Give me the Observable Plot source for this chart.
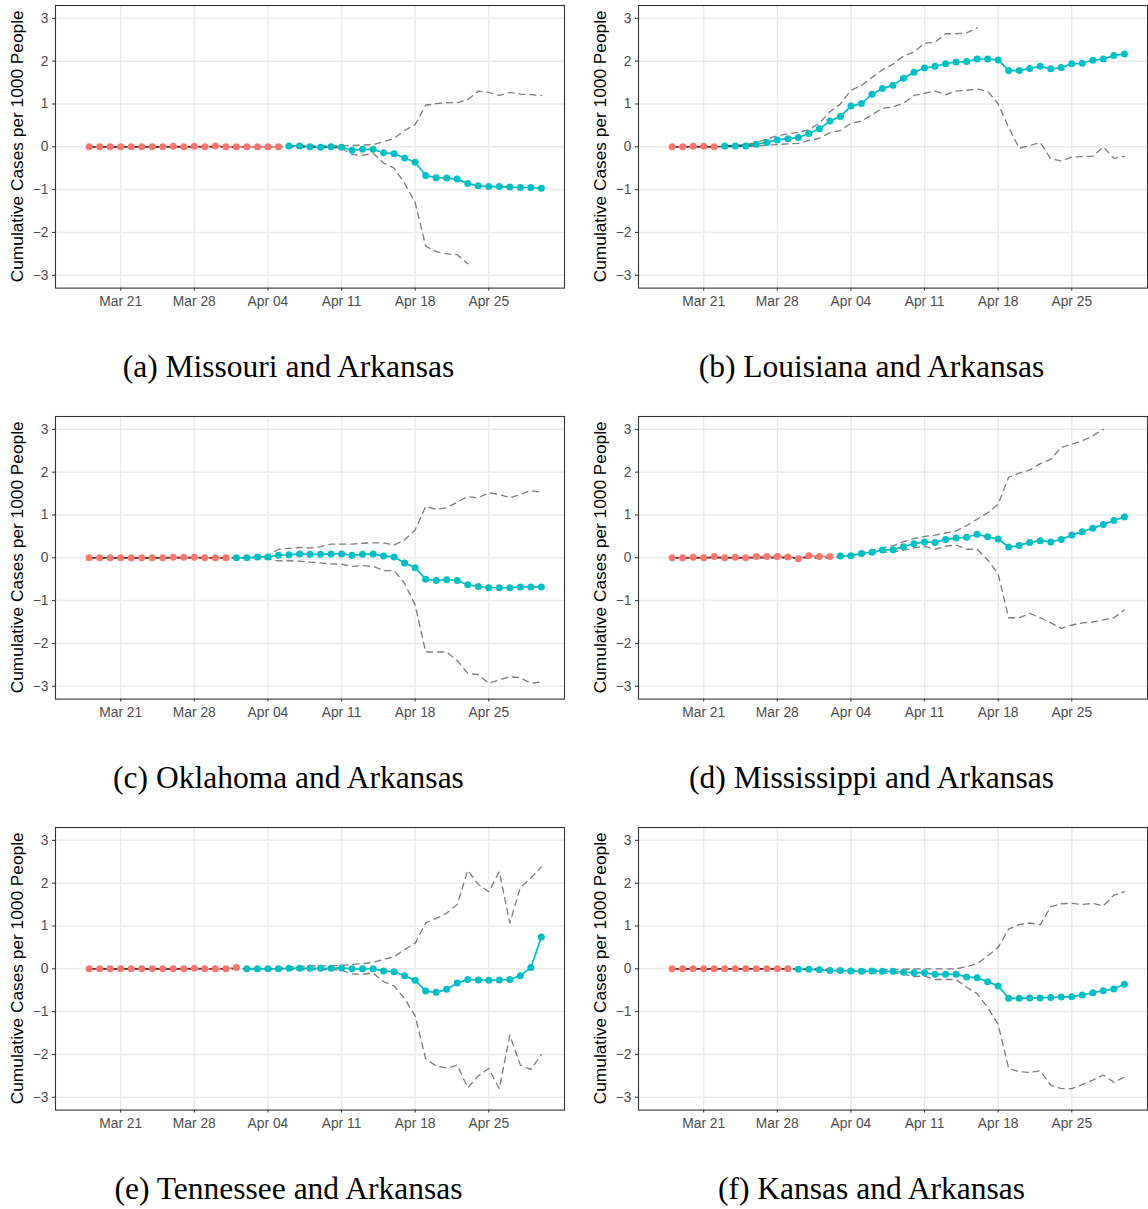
<!DOCTYPE html>
<html><head><meta charset="utf-8">
<script src="https://cdn.jsdelivr.net/npm/d3@7"></script>
<script src="https://cdn.jsdelivr.net/npm/@observablehq/plot@0.6"></script>
<style>
body{margin:0;background:#fff;}
#fig{position:relative;width:1148px;height:1209px;overflow:hidden;background:#fff;}
.panel{position:absolute;width:583px;height:411px;}
.panel svg{position:absolute;left:0;top:0;}
.cap{position:absolute;left:-3px;width:583px;top:350.5px;text-align:center;font-family:"Liberation Serif","Times New Roman",serif;font-size:31.5px;line-height:31.5px;color:#000;white-space:nowrap;}
</style></head><body><div id="fig"></div>
<script>
// ---- data ----
const firstDay = "2020-03-18", lastDay = "2020-04-30";
const xTickLabels = ["2020-03-21","2020-03-28","2020-04-04","2020-04-11","2020-04-18","2020-04-25"];
const yTickValues = [-3,-2,-1,0,1,2,3];
const captions = ["(a) Missouri and Arkansas","(b) Louisiana and Arkansas","(c) Oklahoma and Arkansas","(d) Mississippi and Arkansas","(e) Tennessee and Arkansas","(f) Kansas and Arkansas"];

// (a) Missouri
const moPre = [0,0,0,0,0,0,0,0,0.01,0,0.01,0,0.02,0,0,0,0,0,0];
const moPost = [0.02,0.02,0,-0.01,0,-0.01,-0.08,-0.06,-0.06,-0.14,-0.16,-0.26,-0.36,-0.67,-0.72,-0.73,-0.75,-0.86,-0.91,-0.93,-0.93,-0.94,-0.95,-0.95,-0.97];
const moUpper = [0,0,0,0,0,0,0,0,0,0,0,0,0,0,0,0,0,0,0,0.02,0.02,0.02,0.02,0.02,0.02,0.03,0.04,0.05,0.12,0.2,0.38,0.52,0.97,1.01,1.03,1.03,1.1,1.3,1.27,1.2,1.27,1.23,1.22,1.2];
const moLower = [0,0,0,0,0,0,0,0,0,0,0,0,0,0,0,0,0,0,0,0,0,-0.01,-0.02,-0.02,-0.03,-0.18,-0.2,-0.15,-0.38,-0.5,-0.85,-1.3,-2.32,-2.45,-2.5,-2.52,-2.73,null,null,null,null,null,null,null];

// (b) Louisiana
const laPre = [0,0,0.01,0.01,0];
const laPost = [0.02,0.02,0.02,0.06,0.10,0.16,0.19,0.22,0.31,0.42,0.60,0.71,0.95,1.01,1.23,1.36,1.44,1.60,1.74,1.84,1.88,1.94,1.98,1.99,2.05,2.05,2.03,1.78,1.78,1.83,1.88,1.82,1.85,1.94,1.95,2.02,2.05,2.13,2.17];
const laUpper = [0,0,0,0,0,0.02,0.03,0.05,0.1,0.18,0.26,0.3,0.34,0.4,0.55,0.82,1.0,1.32,1.43,1.62,1.8,1.93,2.12,2.22,2.42,2.44,2.64,2.64,2.66,2.78,null,null,null,null,null,null,null,null,null,null,null,null,null,null];
const laLower = [0,0,0,0,0,0,0,0.01,0.02,0.04,0.05,0.07,0.08,0.15,0.2,0.33,0.38,0.55,0.6,0.75,0.9,0.93,1.02,1.2,1.25,1.3,1.22,1.3,1.32,1.35,1.3,1.0,0.45,-0.03,0.03,0.1,-0.28,-0.33,-0.24,-0.23,-0.22,0.0,-0.27,-0.22];

// (c) Oklahoma
const okPre = [0,0,0,0,0,0,0,0,0.01,0.01,0.01,0,0,0];
const okPost = [0,0,0.02,0.02,0.06,0.07,0.09,0.08,0.08,0.09,0.09,0.06,0.08,0.09,0.04,0.02,-0.12,-0.23,-0.50,-0.53,-0.51,-0.53,-0.63,-0.67,-0.70,-0.70,-0.70,-0.68,-0.68,-0.68];
const okUpper = [0,0,0,0,0,0,0,0,0,0,0,0,0,0,0,0.01,0.03,0.05,0.2,0.22,0.24,0.23,0.26,0.32,0.32,0.32,0.34,0.35,0.35,0.3,0.42,0.65,1.2,1.13,1.17,1.3,1.43,1.4,1.52,1.48,1.4,1.48,1.57,1.53];
const okLower = [0,0,0,0,0,0,0,0,0,0,0,0,0,0,0,-0.01,-0.02,-0.03,-0.07,-0.07,-0.08,-0.1,-0.12,-0.14,-0.15,-0.2,-0.18,-0.2,-0.3,-0.3,-0.6,-1.1,-2.2,-2.2,-2.2,-2.4,-2.7,-2.73,-2.93,-2.85,-2.78,-2.8,-2.93,-2.9];

// (d) Mississippi
const msPre = [0,0,0.01,0,0.03,0,0.01,0,0.03,0.03,0.03,0.02,-0.02,0.05,0.03,0.03];
const msPost = [0.04,0.05,0.10,0.13,0.18,0.19,0.26,0.33,0.37,0.36,0.43,0.46,0.48,0.55,0.49,0.44,0.25,0.29,0.36,0.40,0.37,0.43,0.53,0.61,0.69,0.78,0.87,0.95];
const msUpper = [0,0,0,0,0,0,0,0,0,0,0,0,0,0,0,0,0.04,0.06,0.12,0.17,0.23,0.28,0.38,0.45,0.5,0.53,0.58,0.63,0.75,0.9,1.05,1.25,1.88,1.98,2.05,2.2,2.3,2.58,2.65,2.73,2.85,3.0,null,null];
const msLower = [0,0,0,0,0,0,0,0,0,0,0,0,0,0,0,0,0.03,0.04,0.07,0.1,0.13,0.14,0.18,0.23,0.27,0.2,0.27,0.3,0.2,0.2,-0.05,-0.38,-1.4,-1.4,-1.3,-1.4,-1.52,-1.65,-1.57,-1.52,-1.5,-1.45,-1.4,-1.22];

// (e) Tennessee
const tnPre = [0,0,0,0,0,0,0,0,0,0,0.01,0,0,0,0.03];
const tnPost = [0,0,0,0,0.01,0.01,0.01,0.01,0.01,0.02,0,0,0,-0.05,-0.07,-0.16,-0.27,-0.52,-0.55,-0.48,-0.33,-0.25,-0.26,-0.27,-0.26,-0.25,-0.16,0.03,0.74];
const tnUpper = [0,0,0,0,0,0,0,0,0,0,0,0,0,0,0,0.01,0.02,0.02,0.03,0.04,0.05,0.06,0.07,0.07,0.08,0.1,0.12,0.15,0.22,0.28,0.45,0.6,1.07,1.18,1.3,1.5,2.3,1.97,1.8,2.27,1.07,1.9,2.12,2.38];
const tnLower = [0,0,0,0,0,0,0,0,0,0,0,0,0,0,0,-0.01,-0.01,-0.01,-0.01,-0.02,-0.02,-0.02,-0.02,-0.02,-0.03,-0.12,-0.13,-0.1,-0.3,-0.4,-0.7,-1.1,-2.1,-2.27,-2.32,-2.25,-2.78,-2.5,-2.33,-2.8,-1.55,-2.25,-2.35,-2.0];

// (f) Kansas
const ksPre = [0,0,0,0,0,0,0,0,0,0,0,0];
const ksPost = [-0.01,-0.01,-0.02,-0.04,-0.04,-0.05,-0.06,-0.05,-0.06,-0.06,-0.08,-0.09,-0.09,-0.13,-0.13,-0.13,-0.19,-0.21,-0.30,-0.40,-0.69,-0.69,-0.68,-0.68,-0.67,-0.66,-0.65,-0.61,-0.56,-0.51,-0.47,-0.36];
const ksUpper = [0,0,0,0,0,0,0,0,0,0,0,0,0,0,0,-0.01,-0.01,-0.02,-0.02,-0.02,-0.02,-0.02,-0.01,0,0,0,0,0,0.05,0.12,0.3,0.5,0.93,1.03,1.07,1.03,1.45,1.52,1.53,1.5,1.53,1.47,1.72,1.8];
const ksLower = [0,0,0,0,0,0,0,0,0,0,0,0,-0.01,-0.02,-0.03,-0.05,-0.06,-0.08,-0.09,-0.09,-0.1,-0.1,-0.13,-0.18,-0.17,-0.25,-0.25,-0.25,-0.43,-0.58,-0.9,-1.3,-2.33,-2.4,-2.42,-2.38,-2.72,-2.8,-2.8,-2.7,-2.6,-2.48,-2.65,-2.53];

const panels = [
  {pre: moPre, post: moPost, upper: moUpper, lower: moLower},
  {pre: laPre, post: laPost, upper: laUpper, lower: laLower},
  {pre: okPre, post: okPost, upper: okUpper, lower: okLower},
  {pre: msPre, post: msPost, upper: msUpper, lower: msLower},
  {pre: tnPre, post: tnPost, upper: tnUpper, lower: tnLower},
  {pre: ksPre, post: ksPost, upper: ksUpper, lower: ksLower}
];

// ---- drawing ----
const RED = "#F8766D", CYAN = "#00BFC4";
const dates = d3.utcDay.range(new Date(firstDay), d3.utcDay.offset(new Date(lastDay), 1));
const xTicks = xTickLabels.map(s => new Date(s));
const day = 864e5;
const xDomain = [new Date(+new Date("2020-03-17") - 2.2 * day), new Date(+new Date(lastDay) + 2.2 * day)];
const fmtY = d => d < 0 ? "\u2212" + Math.abs(d) : String(d);
const fig = document.getElementById("fig");

panels.forEach((p, k) => {
  const col = k % 2, row = Math.floor(k / 2);
  const pre = p.pre.map((v, i) => ({date: dates[i], v}));
  const post = p.post.map((v, i) => ({date: dates[p.pre.length + i], v}));
  const ci = dates.map((d, i) => ({date: d, up: p.upper[i], lo: p.lower[i]}));
  const dash = {x: "date", stroke: "black", strokeOpacity: 0.5, strokeWidth: 1.35, strokeDasharray: "6,5"};
  const svg = Plot.plot({
    width: 583, height: 318,
    marginLeft: 55, marginRight: 19, marginTop: 5, marginBottom: 30.4,
    style: {fontFamily: "'Liberation Sans', Arial, sans-serif", fontSize: "13.8px", color: "#4D4D4D", background: "white", overflow: "visible"},
    x: {type: "utc", domain: xDomain},
    y: {domain: [-3.3, 3.3]},
    marks: [
      Plot.gridX(xTicks, {stroke: "#EBEBEB", strokeOpacity: 1, strokeWidth: 1.5}),
      Plot.gridY(yTickValues, {stroke: "#EBEBEB", strokeOpacity: 1, strokeWidth: 1.5}),
      Plot.line(pre, {x: "date", y: "v", stroke: RED, strokeWidth: 1.7}),
      Plot.line(post, {x: "date", y: "v", stroke: CYAN, strokeWidth: 1.7}),
      Plot.line(ci, {...dash, y: "up"}),
      Plot.line(ci, {...dash, y: "lo"}),
      Plot.dot(pre, {x: "date", y: "v", r: 3.5, fill: RED}),
      Plot.dot(post, {x: "date", y: "v", r: 3.5, fill: CYAN}),
      Plot.axisX(xTicks, {tickSize: 3, tickPadding: 5, stroke: "#333333", fill: "#4D4D4D", tickFormat: d3.utcFormat("%b %d"), label: null}),
      Plot.axisY(yTickValues, {tickSize: 3, tickPadding: 4, stroke: "#333333", fill: "#4D4D4D", tickFormat: fmtY, label: null}),
      Plot.frame({stroke: "#333333", strokeWidth: 1.1})
    ]
  });
  d3.select(svg).append("text")
    .attr("transform", "translate(23,146.3) rotate(-90)")
    .attr("text-anchor", "middle")
    .attr("fill", "black")
    .style("font-size", "17.3px")
    .style("font-family", "'Liberation Sans', Arial, sans-serif")
    .text("Cumulative Cases per 1000 People");
  const div = document.createElement("div");
  div.className = "panel";
  div.style.left = (col * 583) + "px";
  div.style.top = (row * 411.2) + "px";
  div.appendChild(svg);
  const cap = document.createElement("div");
  cap.className = "cap";
  cap.textContent = captions[k];
  div.appendChild(cap);
  fig.appendChild(div);
});
</script>
</body></html>
